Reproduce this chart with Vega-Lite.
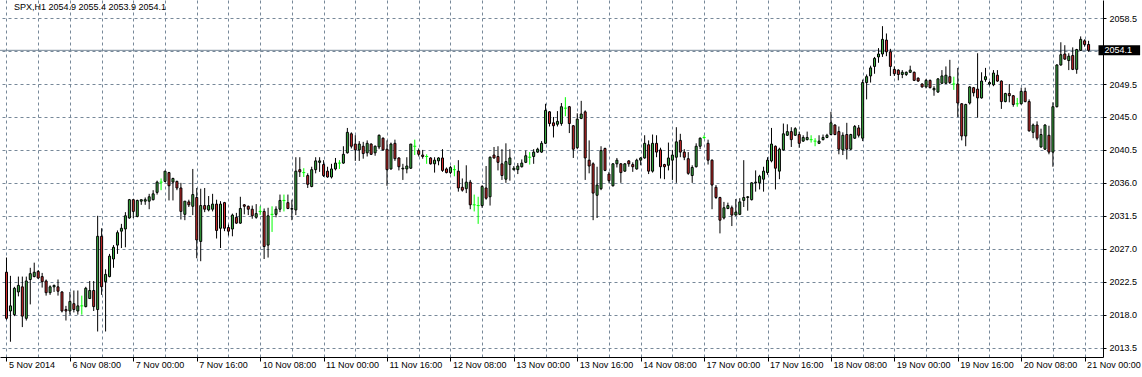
{
  "$schema": "https://vega.github.io/schema/vega-lite/v6.json",
  "width": 1103,
  "height": 357,
  "autosize": {"type": "none"},
  "padding": {"left": 0, "top": 0, "right": 39, "bottom": 20},
  "background": "#ffffff",
  "config": {"view": {"stroke": null}, "font": "Liberation Sans", "axis": {"labelOverlap": false, "labelFlush": false}},
  "title": {"text": "SPX,H1  2054.9 2055.4 2053.9 2054.1", "anchor": "start", "orient": "top", "frame": "group", "offset": -12, "dx": 14, "fontSize": 9, "fontWeight": "normal", "font": "Liberation Sans", "color": "#000000"},
  "datasets": {
    "ohlc": [
      {"i":0,"o":2023.8,"h":2025.8,"l":2017.3,"c":2017.5},
      {"i":1,"o":2018.5,"h":2023.3,"l":2014.3,"c":2019.2},
      {"i":2,"o":2018.0,"h":2021.8,"l":2017.8,"c":2021.6},
      {"i":3,"o":2021.1,"h":2023.2,"l":2020.5,"c":2022.0},
      {"i":4,"o":2021.8,"h":2023.2,"l":2016.3,"c":2017.8},
      {"i":5,"o":2017.5,"h":2023.2,"l":2017.2,"c":2022.6},
      {"i":6,"o":2022.8,"h":2024.4,"l":2019.4,"c":2023.6},
      {"i":7,"o":2023.2,"h":2025.1,"l":2023.1,"c":2023.8},
      {"i":8,"o":2023.9,"h":2024.1,"l":2022.9,"c":2023.0},
      {"i":9,"o":2023.2,"h":2023.7,"l":2021.7,"c":2022.5},
      {"i":10,"o":2022.6,"h":2022.8,"l":2020.6,"c":2021.0},
      {"i":11,"o":2021.0,"h":2022.0,"l":2020.7,"c":2021.8},
      {"i":12,"o":2021.8,"h":2022.1,"l":2021.1,"c":2022.0},
      {"i":13,"o":2021.8,"h":2022.8,"l":2020.6,"c":2021.2},
      {"i":14,"o":2021.1,"h":2021.2,"l":2018.3,"c":2018.5},
      {"i":15,"o":2018.7,"h":2019.2,"l":2017.2,"c":2018.5},
      {"i":16,"o":2018.5,"h":2021.1,"l":2018.0,"c":2019.8},
      {"i":17,"o":2019.5,"h":2021.3,"l":2018.3,"c":2018.7},
      {"i":18,"o":2018.5,"h":2021.3,"l":2018.0,"c":2019.2},
      {"i":19,"o":2019.2,"h":2020.6,"l":2018.0,"c":2019.2},
      {"i":20,"o":2019.1,"h":2021.8,"l":2019.0,"c":2021.6},
      {"i":21,"o":2020.2,"h":2022.6,"l":2020.2,"c":2021.3},
      {"i":22,"o":2021.3,"h":2022.6,"l":2018.5,"c":2019.1},
      {"i":23,"o":2018.7,"h":2031.5,"l":2015.7,"c":2028.7},
      {"i":24,"o":2028.7,"h":2029.8,"l":2020.7,"c":2021.8},
      {"i":25,"o":2022.5,"h":2024.2,"l":2015.7,"c":2023.5},
      {"i":26,"o":2023.2,"h":2026.3,"l":2023.1,"c":2026.0},
      {"i":27,"o":2025.6,"h":2027.5,"l":2024.4,"c":2027.2},
      {"i":28,"o":2027.5,"h":2029.5,"l":2026.3,"c":2029.2},
      {"i":29,"o":2029.4,"h":2030.4,"l":2027.1,"c":2029.8},
      {"i":30,"o":2029.7,"h":2032.0,"l":2027.2,"c":2031.5},
      {"i":31,"o":2031.2,"h":2033.8,"l":2031.1,"c":2033.7},
      {"i":32,"o":2033.7,"h":2033.8,"l":2031.2,"c":2032.1},
      {"i":33,"o":2031.4,"h":2033.7,"l":2031.3,"c":2033.6},
      {"i":34,"o":2033.5,"h":2033.7,"l":2033.0,"c":2033.7},
      {"i":35,"o":2033.5,"h":2034.0,"l":2033.0,"c":2033.7},
      {"i":36,"o":2033.5,"h":2034.5,"l":2032.4,"c":2034.1},
      {"i":37,"o":2033.7,"h":2035.0,"l":2033.6,"c":2034.5},
      {"i":38,"o":2034.7,"h":2036.3,"l":2034.4,"c":2036.1},
      {"i":39,"o":2036.1,"h":2036.6,"l":2035.0,"c":2036.1},
      {"i":40,"o":2036.2,"h":2037.6,"l":2036.1,"c":2037.6},
      {"i":41,"o":2037.4,"h":2037.5,"l":2033.6,"c":2035.6},
      {"i":42,"o":2036.1,"h":2036.7,"l":2033.6,"c":2036.6},
      {"i":43,"o":2036.2,"h":2036.3,"l":2035.0,"c":2035.3},
      {"i":44,"o":2035.3,"h":2036.0,"l":2031.0,"c":2032.1},
      {"i":45,"o":2031.7,"h":2033.5,"l":2030.9,"c":2033.5},
      {"i":46,"o":2033.4,"h":2033.7,"l":2032.7,"c":2033.0},
      {"i":47,"o":2032.8,"h":2037.9,"l":2031.6,"c":2034.4},
      {"i":48,"o":2034.0,"h":2035.3,"l":2025.7,"c":2028.2},
      {"i":49,"o":2028.0,"h":2035.2,"l":2025.3,"c":2032.9},
      {"i":50,"o":2032.9,"h":2035.3,"l":2032.0,"c":2032.4},
      {"i":51,"o":2032.3,"h":2034.2,"l":2032.1,"c":2032.9},
      {"i":52,"o":2032.4,"h":2034.5,"l":2032.1,"c":2033.1},
      {"i":53,"o":2033.1,"h":2033.7,"l":2028.4,"c":2029.5},
      {"i":54,"o":2029.8,"h":2033.5,"l":2027.1,"c":2033.1},
      {"i":55,"o":2033.3,"h":2033.4,"l":2029.4,"c":2029.8},
      {"i":56,"o":2029.9,"h":2030.3,"l":2028.8,"c":2029.4},
      {"i":57,"o":2029.7,"h":2031.8,"l":2028.7,"c":2031.6},
      {"i":58,"o":2031.3,"h":2031.9,"l":2030.4,"c":2030.5},
      {"i":59,"o":2030.5,"h":2034.1,"l":2030.4,"c":2032.5},
      {"i":60,"o":2033.0,"h":2033.1,"l":2031.7,"c":2032.8},
      {"i":61,"o":2032.8,"h":2032.9,"l":2031.6,"c":2032.4},
      {"i":62,"o":2032.4,"h":2032.9,"l":2031.1,"c":2031.5},
      {"i":63,"o":2031.3,"h":2033.1,"l":2031.1,"c":2031.8},
      {"i":64,"o":2032.1,"h":2032.8,"l":2031.6,"c":2032.1},
      {"i":65,"o":2032.1,"h":2032.5,"l":2025.6,"c":2027.3},
      {"i":66,"o":2027.5,"h":2032.6,"l":2025.8,"c":2031.5},
      {"i":67,"o":2031.7,"h":2032.8,"l":2029.3,"c":2031.7},
      {"i":68,"o":2031.7,"h":2032.8,"l":2031.3,"c":2032.4},
      {"i":69,"o":2032.4,"h":2034.4,"l":2032.0,"c":2033.6},
      {"i":70,"o":2033.6,"h":2034.4,"l":2032.1,"c":2033.6},
      {"i":71,"o":2033.3,"h":2034.4,"l":2032.4,"c":2032.5},
      {"i":72,"o":2032.4,"h":2033.7,"l":2030.9,"c":2032.5},
      {"i":73,"o":2032.3,"h":2039.5,"l":2031.6,"c":2037.6},
      {"i":74,"o":2037.8,"h":2039.5,"l":2036.8,"c":2037.5},
      {"i":75,"o":2037.4,"h":2038.0,"l":2036.8,"c":2037.4},
      {"i":76,"o":2037.0,"h":2037.3,"l":2035.3,"c":2035.8},
      {"i":77,"o":2035.5,"h":2038.2,"l":2035.4,"c":2037.8},
      {"i":78,"o":2037.8,"h":2039.5,"l":2037.3,"c":2039.0},
      {"i":79,"o":2038.8,"h":2039.5,"l":2037.5,"c":2039.0},
      {"i":80,"o":2038.5,"h":2039.1,"l":2036.8,"c":2037.0},
      {"i":81,"o":2037.6,"h":2038.2,"l":2036.7,"c":2036.8},
      {"i":82,"o":2036.8,"h":2038.6,"l":2036.6,"c":2037.9},
      {"i":83,"o":2037.9,"h":2039.4,"l":2037.7,"c":2038.7},
      {"i":84,"o":2038.7,"h":2039.1,"l":2037.9,"c":2038.7},
      {"i":85,"o":2038.7,"h":2041.0,"l":2038.6,"c":2039.9},
      {"i":86,"o":2040.1,"h":2043.5,"l":2040.0,"c":2042.9},
      {"i":87,"o":2042.7,"h":2042.9,"l":2040.7,"c":2041.0},
      {"i":88,"o":2041.3,"h":2042.5,"l":2039.0,"c":2040.5},
      {"i":89,"o":2040.5,"h":2041.7,"l":2039.0,"c":2041.3},
      {"i":90,"o":2041.0,"h":2041.6,"l":2039.3,"c":2040.0},
      {"i":91,"o":2040.1,"h":2041.8,"l":2039.6,"c":2041.4},
      {"i":92,"o":2041.3,"h":2041.4,"l":2039.8,"c":2039.9},
      {"i":93,"o":2040.1,"h":2041.1,"l":2039.7,"c":2041.0},
      {"i":94,"o":2040.9,"h":2042.6,"l":2040.6,"c":2042.5},
      {"i":95,"o":2042.1,"h":2042.2,"l":2040.4,"c":2040.5},
      {"i":96,"o":2040.6,"h":2041.8,"l":2035.6,"c":2037.8},
      {"i":97,"o":2037.9,"h":2041.5,"l":2037.8,"c":2041.3},
      {"i":98,"o":2041.4,"h":2041.9,"l":2039.0,"c":2039.3},
      {"i":99,"o":2039.4,"h":2039.5,"l":2037.7,"c":2038.2},
      {"i":100,"o":2037.9,"h":2038.6,"l":2036.4,"c":2038.0},
      {"i":101,"o":2037.9,"h":2039.5,"l":2037.3,"c":2038.3},
      {"i":102,"o":2038.0,"h":2041.3,"l":2037.9,"c":2041.3},
      {"i":103,"o":2041.0,"h":2041.9,"l":2039.8,"c":2041.0},
      {"i":104,"o":2040.4,"h":2040.7,"l":2039.6,"c":2039.9},
      {"i":105,"o":2039.8,"h":2040.5,"l":2039.3,"c":2039.6},
      {"i":106,"o":2039.6,"h":2039.9,"l":2038.6,"c":2039.6},
      {"i":107,"o":2039.4,"h":2039.5,"l":2038.5,"c":2038.6},
      {"i":108,"o":2038.6,"h":2039.5,"l":2037.4,"c":2039.1},
      {"i":109,"o":2039.0,"h":2039.5,"l":2038.4,"c":2039.4},
      {"i":110,"o":2039.4,"h":2040.6,"l":2037.5,"c":2037.7},
      {"i":111,"o":2037.9,"h":2038.1,"l":2037.3,"c":2037.4},
      {"i":112,"o":2037.4,"h":2038.3,"l":2037.2,"c":2038.1},
      {"i":113,"o":2037.8,"h":2038.4,"l":2036.9,"c":2037.8},
      {"i":114,"o":2037.6,"h":2039.1,"l":2034.8,"c":2035.3},
      {"i":115,"o":2035.4,"h":2036.6,"l":2034.8,"c":2035.0},
      {"i":116,"o":2035.2,"h":2038.4,"l":2034.6,"c":2036.1},
      {"i":117,"o":2036.1,"h":2036.4,"l":2032.4,"c":2033.0},
      {"i":118,"o":2033.0,"h":2034.4,"l":2032.1,"c":2033.0},
      {"i":119,"o":2032.9,"h":2034.1,"l":2030.4,"c":2032.9},
      {"i":120,"o":2032.9,"h":2035.7,"l":2032.6,"c":2035.5},
      {"i":121,"o":2035.3,"h":2038.3,"l":2033.7,"c":2033.9},
      {"i":122,"o":2034.1,"h":2039.6,"l":2032.9,"c":2039.5},
      {"i":123,"o":2039.8,"h":2040.9,"l":2039.3,"c":2039.4},
      {"i":124,"o":2039.6,"h":2041.0,"l":2037.7,"c":2038.8},
      {"i":125,"o":2038.6,"h":2040.6,"l":2036.4,"c":2037.0},
      {"i":126,"o":2036.5,"h":2041.4,"l":2036.0,"c":2038.9},
      {"i":127,"o":2038.5,"h":2040.6,"l":2036.3,"c":2039.4},
      {"i":128,"o":2037.8,"h":2038.3,"l":2037.7,"c":2038.0},
      {"i":129,"o":2037.8,"h":2038.7,"l":2037.2,"c":2038.3},
      {"i":130,"o":2038.2,"h":2039.2,"l":2038.1,"c":2038.7},
      {"i":131,"o":2038.8,"h":2040.4,"l":2038.7,"c":2039.7},
      {"i":132,"o":2039.5,"h":2040.2,"l":2038.5,"c":2039.5},
      {"i":133,"o":2039.6,"h":2040.6,"l":2038.6,"c":2040.2},
      {"i":134,"o":2040.2,"h":2040.8,"l":2040.1,"c":2040.6},
      {"i":135,"o":2040.2,"h":2041.7,"l":2040.1,"c":2041.4},
      {"i":136,"o":2041.4,"h":2046.8,"l":2041.3,"c":2045.9},
      {"i":137,"o":2045.7,"h":2045.8,"l":2043.7,"c":2044.1},
      {"i":138,"o":2044.2,"h":2045.0,"l":2042.2,"c":2043.8},
      {"i":139,"o":2044.0,"h":2045.8,"l":2043.7,"c":2044.4},
      {"i":140,"o":2044.1,"h":2046.9,"l":2043.8,"c":2046.4},
      {"i":141,"o":2046.2,"h":2047.7,"l":2045.1,"c":2046.2},
      {"i":142,"o":2046.4,"h":2046.5,"l":2042.8,"c":2044.1},
      {"i":143,"o":2043.8,"h":2043.9,"l":2039.4,"c":2040.6},
      {"i":144,"o":2040.8,"h":2045.5,"l":2040.6,"c":2044.7},
      {"i":145,"o":2044.8,"h":2047.2,"l":2044.7,"c":2045.4},
      {"i":146,"o":2045.7,"h":2045.9,"l":2036.4,"c":2039.4},
      {"i":147,"o":2039.1,"h":2041.8,"l":2037.3,"c":2038.3},
      {"i":148,"o":2038.6,"h":2038.8,"l":2030.9,"c":2034.6},
      {"i":149,"o":2034.3,"h":2038.2,"l":2031.2,"c":2035.7},
      {"i":150,"o":2035.2,"h":2041.0,"l":2035.0,"c":2040.4},
      {"i":151,"o":2040.7,"h":2040.8,"l":2037.6,"c":2037.7},
      {"i":152,"o":2037.2,"h":2037.5,"l":2036.0,"c":2036.3},
      {"i":153,"o":2035.6,"h":2038.7,"l":2035.5,"c":2038.6},
      {"i":154,"o":2038.6,"h":2039.4,"l":2038.1,"c":2039.1},
      {"i":155,"o":2038.6,"h":2038.7,"l":2036.0,"c":2037.4},
      {"i":156,"o":2037.6,"h":2038.7,"l":2037.5,"c":2038.6},
      {"i":157,"o":2039.0,"h":2039.1,"l":2038.2,"c":2038.6},
      {"i":158,"o":2038.5,"h":2038.8,"l":2037.5,"c":2038.2},
      {"i":159,"o":2037.9,"h":2039.3,"l":2037.8,"c":2039.1},
      {"i":160,"o":2039.1,"h":2039.5,"l":2038.4,"c":2039.4},
      {"i":161,"o":2039.4,"h":2042.5,"l":2039.3,"c":2041.4},
      {"i":162,"o":2041.2,"h":2041.8,"l":2037.2,"c":2037.6},
      {"i":163,"o":2037.6,"h":2042.6,"l":2037.4,"c":2041.4},
      {"i":164,"o":2041.4,"h":2042.5,"l":2039.5,"c":2040.2},
      {"i":165,"o":2040.5,"h":2040.8,"l":2036.6,"c":2038.2},
      {"i":166,"o":2038.5,"h":2038.6,"l":2036.5,"c":2038.2},
      {"i":167,"o":2038.4,"h":2041.5,"l":2037.7,"c":2039.4},
      {"i":168,"o":2039.1,"h":2040.5,"l":2036.4,"c":2039.8},
      {"i":169,"o":2039.5,"h":2043.6,"l":2036.0,"c":2041.6},
      {"i":170,"o":2041.8,"h":2042.7,"l":2039.5,"c":2040.2},
      {"i":171,"o":2040.2,"h":2040.6,"l":2039.1,"c":2039.5},
      {"i":172,"o":2039.3,"h":2040.2,"l":2037.1,"c":2037.3},
      {"i":173,"o":2037.0,"h":2038.4,"l":2036.0,"c":2038.1},
      {"i":174,"o":2038.2,"h":2041.4,"l":2038.1,"c":2041.0},
      {"i":175,"o":2041.0,"h":2042.2,"l":2040.6,"c":2042.1},
      {"i":176,"o":2042.2,"h":2042.5,"l":2042.0,"c":2042.2},
      {"i":177,"o":2041.4,"h":2041.9,"l":2038.5,"c":2039.1},
      {"i":178,"o":2039.1,"h":2039.2,"l":2032.4,"c":2035.7},
      {"i":179,"o":2035.4,"h":2035.7,"l":2033.8,"c":2034.0},
      {"i":180,"o":2034.0,"h":2034.1,"l":2029.1,"c":2030.9},
      {"i":181,"o":2031.2,"h":2033.4,"l":2031.0,"c":2032.6},
      {"i":182,"o":2032.5,"h":2033.3,"l":2032.4,"c":2032.9},
      {"i":183,"o":2032.6,"h":2032.9,"l":2030.1,"c":2031.6},
      {"i":184,"o":2031.6,"h":2033.8,"l":2031.5,"c":2032.0},
      {"i":185,"o":2031.7,"h":2033.9,"l":2031.6,"c":2033.4},
      {"i":186,"o":2033.6,"h":2039.1,"l":2032.7,"c":2034.0},
      {"i":187,"o":2034.0,"h":2034.2,"l":2032.2,"c":2034.1},
      {"i":188,"o":2033.7,"h":2036.1,"l":2033.6,"c":2036.0},
      {"i":189,"o":2036.0,"h":2037.7,"l":2034.8,"c":2036.1},
      {"i":190,"o":2036.0,"h":2037.1,"l":2035.1,"c":2036.9},
      {"i":191,"o":2036.5,"h":2038.2,"l":2034.8,"c":2037.6},
      {"i":192,"o":2037.4,"h":2039.5,"l":2037.1,"c":2039.1},
      {"i":193,"o":2039.0,"h":2043.5,"l":2038.8,"c":2041.3},
      {"i":194,"o":2041.0,"h":2041.1,"l":2035.1,"c":2038.0},
      {"i":195,"o":2037.6,"h":2040.8,"l":2036.5,"c":2040.6},
      {"i":196,"o":2040.5,"h":2044.1,"l":2040.4,"c":2042.7},
      {"i":197,"o":2042.5,"h":2044.0,"l":2042.4,"c":2043.0},
      {"i":198,"o":2043.0,"h":2043.6,"l":2040.9,"c":2041.9},
      {"i":199,"o":2042.5,"h":2043.6,"l":2042.4,"c":2043.4},
      {"i":200,"o":2042.6,"h":2043.0,"l":2040.8,"c":2041.4},
      {"i":201,"o":2041.7,"h":2042.5,"l":2041.6,"c":2042.2},
      {"i":202,"o":2041.9,"h":2043.0,"l":2041.8,"c":2042.2},
      {"i":203,"o":2041.9,"h":2042.5,"l":2041.5,"c":2041.9},
      {"i":204,"o":2041.7,"h":2042.1,"l":2041.0,"c":2041.7},
      {"i":205,"o":2041.4,"h":2042.5,"l":2041.3,"c":2041.7},
      {"i":206,"o":2041.9,"h":2042.6,"l":2041.8,"c":2042.2},
      {"i":207,"o":2042.2,"h":2042.7,"l":2042.1,"c":2042.5},
      {"i":208,"o":2042.6,"h":2045.7,"l":2042.5,"c":2044.2},
      {"i":209,"o":2043.9,"h":2044.0,"l":2042.5,"c":2042.6},
      {"i":210,"o":2043.0,"h":2043.7,"l":2039.9,"c":2040.6},
      {"i":211,"o":2040.5,"h":2042.9,"l":2039.8,"c":2042.5},
      {"i":212,"o":2042.6,"h":2044.2,"l":2039.2,"c":2040.6},
      {"i":213,"o":2040.6,"h":2042.7,"l":2040.5,"c":2042.6},
      {"i":214,"o":2042.1,"h":2043.9,"l":2042.0,"c":2043.7},
      {"i":215,"o":2043.5,"h":2043.9,"l":2042.2,"c":2042.5},
      {"i":216,"o":2042.1,"h":2050.1,"l":2041.7,"c":2049.7},
      {"i":217,"o":2049.7,"h":2050.8,"l":2047.4,"c":2050.5},
      {"i":218,"o":2050.6,"h":2052.0,"l":2049.7,"c":2051.7},
      {"i":219,"o":2051.9,"h":2053.2,"l":2050.9,"c":2053.0},
      {"i":220,"o":2053.2,"h":2054.4,"l":2052.4,"c":2053.6},
      {"i":221,"o":2053.6,"h":2057.4,"l":2053.2,"c":2055.6},
      {"i":222,"o":2055.5,"h":2056.4,"l":2053.3,"c":2053.9},
      {"i":223,"o":2053.9,"h":2054.3,"l":2050.6,"c":2051.9},
      {"i":224,"o":2051.5,"h":2051.9,"l":2050.6,"c":2050.9},
      {"i":225,"o":2051.4,"h":2051.5,"l":2050.0,"c":2050.8},
      {"i":226,"o":2050.8,"h":2051.4,"l":2050.3,"c":2051.1},
      {"i":227,"o":2050.8,"h":2051.2,"l":2050.6,"c":2051.1},
      {"i":228,"o":2051.1,"h":2052.0,"l":2051.0,"c":2051.4},
      {"i":229,"o":2051.1,"h":2051.2,"l":2049.9,"c":2050.0},
      {"i":230,"o":2050.3,"h":2050.4,"l":2049.8,"c":2049.9},
      {"i":231,"o":2049.5,"h":2049.6,"l":2049.0,"c":2049.1},
      {"i":232,"o":2049.1,"h":2050.2,"l":2048.9,"c":2050.0},
      {"i":233,"o":2050.0,"h":2050.1,"l":2048.9,"c":2049.0},
      {"i":234,"o":2048.7,"h":2049.2,"l":2047.9,"c":2048.9},
      {"i":235,"o":2048.4,"h":2050.3,"l":2048.3,"c":2050.2},
      {"i":236,"o":2049.6,"h":2051.4,"l":2049.5,"c":2050.6},
      {"i":237,"o":2049.6,"h":2051.9,"l":2049.5,"c":2050.7},
      {"i":238,"o":2050.5,"h":2052.8,"l":2049.5,"c":2049.7},
      {"i":239,"o":2049.5,"h":2050.5,"l":2048.7,"c":2049.5},
      {"i":240,"o":2049.5,"h":2051.7,"l":2045.0,"c":2046.9},
      {"i":241,"o":2046.8,"h":2046.9,"l":2041.8,"c":2042.4},
      {"i":242,"o":2042.4,"h":2046.8,"l":2041.0,"c":2046.7},
      {"i":243,"o":2046.9,"h":2049.2,"l":2046.7,"c":2049.1},
      {"i":244,"o":2049.0,"h":2049.1,"l":2047.8,"c":2048.3},
      {"i":245,"o":2048.8,"h":2053.7,"l":2044.9,"c":2047.6},
      {"i":246,"o":2047.6,"h":2051.1,"l":2047.5,"c":2049.9},
      {"i":247,"o":2050.1,"h":2051.7,"l":2049.8,"c":2050.5},
      {"i":248,"o":2049.5,"h":2049.9,"l":2049.3,"c":2049.7},
      {"i":249,"o":2049.4,"h":2051.4,"l":2049.2,"c":2051.0},
      {"i":250,"o":2050.7,"h":2051.4,"l":2049.8,"c":2049.9},
      {"i":251,"o":2049.9,"h":2050.0,"l":2046.1,"c":2047.1},
      {"i":252,"o":2047.1,"h":2048.3,"l":2047.0,"c":2048.2},
      {"i":253,"o":2048.2,"h":2049.5,"l":2047.0,"c":2047.9},
      {"i":254,"o":2047.9,"h":2048.0,"l":2046.4,"c":2046.7},
      {"i":255,"o":2046.8,"h":2047.6,"l":2046.4,"c":2046.8},
      {"i":256,"o":2046.8,"h":2049.0,"l":2046.7,"c":2048.5},
      {"i":257,"o":2048.5,"h":2049.0,"l":2047.0,"c":2047.1},
      {"i":258,"o":2047.1,"h":2047.4,"l":2043.0,"c":2043.1},
      {"i":259,"o":2042.9,"h":2044.1,"l":2042.1,"c":2043.9},
      {"i":260,"o":2043.9,"h":2044.4,"l":2041.8,"c":2042.1},
      {"i":261,"o":2040.9,"h":2043.4,"l":2040.8,"c":2042.6},
      {"i":262,"o":2040.6,"h":2044.0,"l":2040.5,"c":2043.9},
      {"i":263,"o":2042.5,"h":2043.8,"l":2039.9,"c":2040.2},
      {"i":264,"o":2040.2,"h":2047.0,"l":2038.2,"c":2046.4},
      {"i":265,"o":2046.4,"h":2052.2,"l":2046.3,"c":2052.1},
      {"i":266,"o":2052.1,"h":2055.2,"l":2052.0,"c":2053.5},
      {"i":267,"o":2053.6,"h":2054.8,"l":2052.8,"c":2052.9},
      {"i":268,"o":2052.7,"h":2053.7,"l":2051.4,"c":2053.3},
      {"i":269,"o":2053.4,"h":2054.5,"l":2051.4,"c":2051.5},
      {"i":270,"o":2051.5,"h":2054.3,"l":2050.9,"c":2054.2},
      {"i":271,"o":2054.1,"h":2056.0,"l":2054.0,"c":2055.6},
      {"i":272,"o":2055.4,"h":2055.6,"l":2054.6,"c":2054.9},
      {"i":273,"o":2054.9,"h":2055.4,"l":2053.9,"c":2054.1}
    ],
    "bid": [{"p": 2054.1}]
  },
  "layer": [
    {
      "data": {"name": "bid"},
      "mark": {"type": "rule", "color": "#778899", "strokeWidth": 1},
      "encoding": {
        "y": {"field": "p", "type": "quantitative",
          "scale": {"domain": [2012.9, 2060.29], "nice": false, "zero": false},
          "axis": {"orient": "right", "title": null, "values": [2013.5, 2018, 2022.5, 2027, 2031.5, 2036, 2040.5, 2045, 2049.5, 2054, 2058.5], "tickCount": 30,
            "labelExpr": "datum.value == 2054 ? '' : format(datum.value, '.1f')",
            "labelFont": "Liberation Sans", "labelFontSize": 9, "labelColor": "#000000", "labelPadding": 3, "labelOverlap": false, "labelFlush": false, "labelBound": false,
            "tickColor": "#000000", "tickSize": 3, "domainColor": "#000000",
            "grid": true, "gridColor": "#778899", "gridDash": [3, 3], "gridOpacity": 1}}
      }
    },
    {
      "data": {"name": "ohlc"},
      "mark": {"type": "rule", "strokeWidth": 1},
      "encoding": {
        "x": {"field": "i", "type": "quantitative",
          "scale": {"domain": [-0.375, 275.375], "nice": false, "zero": false},
          "axis": {"orient": "bottom", "title": null,
            "values": [0, 8, 16, 24, 32, 40, 48, 56, 64, 72, 80, 88, 96, 104, 112, 120, 128, 136, 144, 152, 160, 168, 176, 184, 192, 200, 208, 216, 224, 232, 240, 248, 256, 264, 272],
            "tickCount": 60,
            "labelExpr": "datum.value % 16 == 0 ? ['5 Nov 2014','6 Nov 08:00','7 Nov 00:00','7 Nov 16:00','10 Nov 08:00','11 Nov 00:00','11 Nov 16:00','12 Nov 08:00','13 Nov 00:00','13 Nov 16:00','14 Nov 08:00','17 Nov 00:00','17 Nov 16:00','18 Nov 08:00','19 Nov 00:00','19 Nov 16:00','20 Nov 08:00','21 Nov 00:00'][datum.value / 16] : ''",
            "labelAlign": "left", "labelBaseline": "top", "labelPadding": -1, "labelFlush": false, "labelOverlap": false, "labelBound": false, "labelOffset": 2,
            "labelFont": "Liberation Sans", "labelFontSize": 9, "labelColor": "#000000",
            "ticks": true, "tickSize": 4, "tickColor": "#000000", "tickOpacity": {"condition": {"test": "datum.value % 16 == 0", "value": 1}, "value": 0},
            "domainColor": "#000000",
            "grid": true, "gridColor": "#778899", "gridDash": [3, 3], "gridOpacity": 1}},
        "y": {"field": "l", "type": "quantitative"},
        "y2": {"field": "h"},
        "color": {"condition": {"test": "datum.o == datum.c", "value": "#00ff00"}, "value": "#000000"}
      }
    },
    {
      "data": {"name": "ohlc"},
      "transform": [{"filter": "datum.o != datum.c"}],
      "mark": {"type": "bar", "width": 2, "stroke": "#000000", "strokeWidth": 1},
      "encoding": {
        "x": {"field": "i", "type": "quantitative"},
        "y": {"field": "o", "type": "quantitative"},
        "y2": {"field": "c"},
        "fill": {"condition": {"test": "datum.c > datum.o", "value": "#3cb043"}, "value": "#d22b2b"}
      }
    },
    {
      "data": {"name": "ohlc"},
      "transform": [{"filter": "datum.o == datum.c"}],
      "mark": {"type": "tick", "orient": "horizontal", "size": 3, "thickness": 1, "color": "#00ff00", "opacity": 1},
      "encoding": {
        "x": {"field": "i", "type": "quantitative"},
        "y": {"field": "c", "type": "quantitative"}
      }
    },
    {
      "data": {"name": "bid"},
      "mark": {"type": "bar", "height": 10, "color": "#000000"},
      "encoding": {
        "x": {"datum": 275.5},
        "x2": {"datum": 286},
        "y": {"field": "p", "type": "quantitative"}
      }
    },
    {
      "data": {"name": "bid"},
      "mark": {"type": "text", "align": "left", "baseline": "middle", "color": "#ffffff", "font": "Liberation Sans", "fontSize": 9, "dx": 0},
      "encoding": {
        "x": {"datum": 277},
        "y": {"field": "p", "type": "quantitative"},
        "text": {"field": "p", "type": "quantitative", "format": ".1f"}
      }
    }
  ]
}
